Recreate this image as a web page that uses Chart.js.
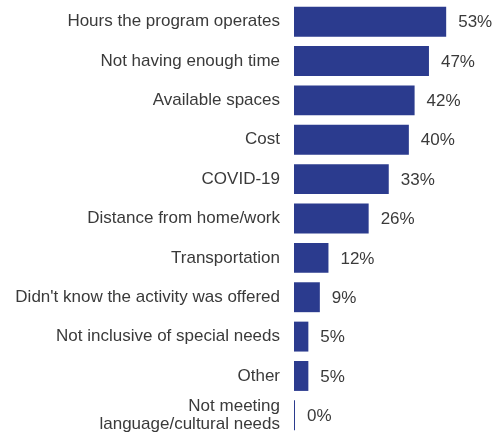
<!DOCTYPE html>
<html>
<head>
<meta charset="utf-8">
<script src="https://cdn.jsdelivr.net/npm/chart.js@4"></script>
<style>
  html, body { margin: 0; padding: 0; background: #fff; }
  #chart { display: block; }
</style>
</head>
<body>
<canvas id="chart" width="497" height="435"></canvas>
<script>
  /* ── 데이터 ── */
  const categories = [
    'Hours the program operates',
    'Not having enough time',
    'Available spaces',
    'Cost',
    'COVID-19',
    'Distance from home/work',
    'Transportation',
    "Didn't know the activity was offered",
    'Not inclusive of special needs',
    'Other',
    ['Not meeting', 'language/cultural needs'],
  ];
  const percents = [53, 47, 42, 40, 33, 26, 12, 9, 5, 5, 0];

  const BAR_COLOR  = '#2b3b8e';
  const TEXT_COLOR = '#3a3a3a';
  const FONT = 'Liberation Sans, Arial, sans-serif';

  /* ── 값 라벨 (막대 끝 + 여백) ── */
  const valueLabels = {
    id: 'valueLabels',
    afterDatasetsDraw(chart) {
      const ctx = chart.ctx;
      const meta = chart.getDatasetMeta(0);
      ctx.save();
      ctx.font = '17px ' + FONT;
      ctx.fillStyle = TEXT_COLOR;
      ctx.textBaseline = 'middle';
      ctx.textAlign = 'left';
      meta.data.forEach((bar, i) => {
        ctx.fillText(percents[i] + '%', bar.x + 12, bar.y + 1);
      });
      ctx.restore();
    },
  };

  new Chart(document.getElementById('chart'), {
    type: 'bar',
    data: {
      labels: categories,
      datasets: [{
        data: percents,
        backgroundColor: BAR_COLOR,
        barPercentage: 0.76,
        categoryPercentage: 1,
        minBarLength: 1,
      }],
    },
    options: {
      indexAxis: 'y',
      responsive: false,
      animation: false,
      layout: { padding: { top: 2, right: 2, bottom: 0, left: 0 } },
      plugins: {
        legend: { display: false },
        tooltip: { enabled: false },
      },
      scales: {
        x: {
          display: false,
          min: 0,
          max: 70,
        },
        y: {
          grid: { display: false, drawTicks: false },
          border: { display: false },
          afterFit: s => {
            s.width = 294;
            s.paddingTop = 0;
            s.paddingBottom = 0;
          },
          ticks: {
            padding: 14,
            color: TEXT_COLOR,
            font: { family: FONT, size: 17, lineHeight: 1.05 },
            autoSkip: false,
          },
        },
      },
    },
    plugins: [valueLabels],
  });
</script>
</body>
</html>
